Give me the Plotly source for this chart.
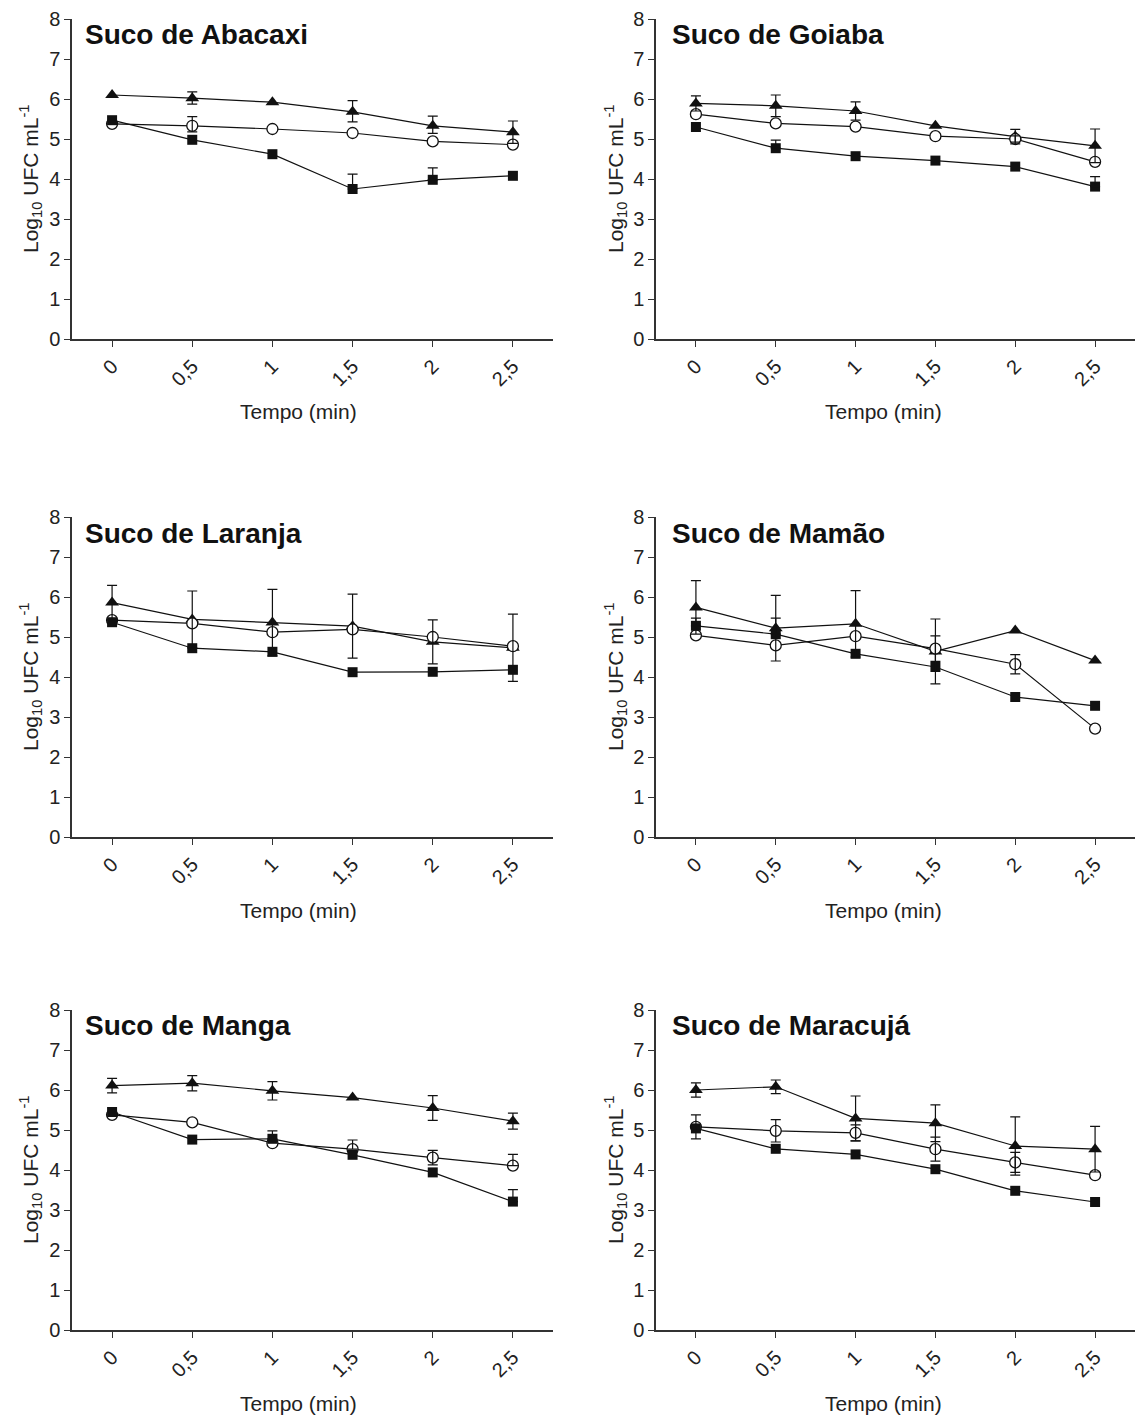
import plotly.graph_objects as go

PAGE_W, PAGE_H = 1143, 1418
LEFT_OFF, TOP_OFF = 8, 19
W, H = PAGE_W - 2 * LEFT_OFF, PAGE_H
H_EFF = H - 22  # vertical extent actually used by the paper area

times = [0, 0.5, 1, 1.5, 2, 2.5]
tick_text = ["0", "0,5", "1", "1,5", "2", "2,5"]
titles = ["Suco de Abacaxi", "Suco de Goiaba", "Suco de Laranja",
          "Suco de Mamão", "Suco de Manga", "Suco de Maracujá"]

# ---- Abacaxi ----
abacaxi_tri = [6.10, 6.02, 5.92, 5.68, 5.33, 5.17]
abacaxi_tri_up = [0, 0.16, 0, 0.28, 0.24, 0.28]
abacaxi_tri_dn = [0, 0.15, 0, 0.25, 0.19, 0.28]
abacaxi_circ = [5.38, 5.33, 5.25, 5.15, 4.94, 4.86]
abacaxi_circ_up = [0, 0.23, 0, 0, 0, 0]
abacaxi_circ_dn = [0, 0.15, 0, 0, 0, 0]
abacaxi_sq = [5.47, 4.98, 4.62, 3.75, 3.98, 4.08]
abacaxi_sq_up = [0, 0, 0, 0.37, 0.30, 0]
abacaxi_sq_dn = [0, 0, 0, 0, 0, 0]

# ---- Goiaba ----
goiaba_tri = [5.89, 5.83, 5.70, 5.33, 5.06, 4.83]
goiaba_tri_up = [0.19, 0.27, 0.23, 0, 0.18, 0.42]
goiaba_tri_dn = [0.19, 0.27, 0.23, 0, 0.18, 0.42]
goiaba_circ = [5.62, 5.39, 5.31, 5.07, 5.00, 4.43]
goiaba_circ_up = [0, 0, 0, 0, 0.08, 0]
goiaba_circ_dn = [0, 0, 0, 0, 0.08, 0]
goiaba_sq = [5.30, 4.77, 4.57, 4.46, 4.31, 3.81]
goiaba_sq_up = [0, 0.20, 0, 0, 0, 0.25]
goiaba_sq_dn = [0, 0, 0, 0, 0, 0]

# ---- Laranja ----
laranja_tri = [5.86, 5.44, 5.36, 5.27, 4.88, 4.73]
laranja_tri_up = [0.43, 0.71, 0.83, 0.80, 0.55, 0.84]
laranja_tri_dn = [0.43, 0.71, 0.83, 0.80, 0.55, 0.84]
laranja_circ = [5.42, 5.34, 5.12, 5.19, 5.00, 4.77]
laranja_circ_up = [0, 0, 0, 0, 0, 0]
laranja_circ_dn = [0, 0, 0, 0, 0, 0]
laranja_sq = [5.37, 4.72, 4.63, 4.12, 4.13, 4.18]
laranja_sq_up = [0, 0, 0, 0, 0, 0]
laranja_sq_dn = [0, 0, 0, 0, 0, 0]

# ---- Mamão ----
mamao_tri = [5.74, 5.22, 5.33, 4.64, 5.16, 4.41]
mamao_tri_up = [0.67, 0.82, 0.83, 0.81, 0, 0]
mamao_tri_dn = [0.67, 0.82, 0.83, 0.81, 0, 0]
mamao_circ = [5.04, 4.79, 5.02, 4.71, 4.32, 2.71]
mamao_circ_up = [0, 0, 0, 0.32, 0.24, 0]
mamao_circ_dn = [0, 0, 0, 0.32, 0.24, 0]
mamao_sq = [5.28, 5.07, 4.58, 4.25, 3.50, 3.28]
mamao_sq_up = [0.19, 0.40, 0, 0, 0, 0]
mamao_sq_dn = [0, 0, 0, 0, 0, 0]

# ---- Manga ----
manga_tri = [6.11, 6.17, 5.98, 5.81, 5.55, 5.22]
manga_tri_up = [0.18, 0.19, 0.23, 0, 0.31, 0.20]
manga_tri_dn = [0.18, 0.19, 0.23, 0, 0.31, 0.20]
manga_circ = [5.38, 5.19, 4.67, 4.52, 4.31, 4.11]
manga_circ_up = [0, 0, 0, 0.23, 0.18, 0.28]
manga_circ_dn = [0, 0, 0, 0, 0.18, 0]
manga_sq = [5.45, 4.76, 4.78, 4.38, 3.94, 3.21]
manga_sq_up = [0, 0, 0.20, 0, 0, 0.30]
manga_sq_dn = [0, 0, 0, 0, 0, 0]

# ---- Maracujá ----
maracuja_tri = [6.00, 6.08, 5.29, 5.17, 4.60, 4.52]
maracuja_tri_up = [0.18, 0.17, 0.56, 0.46, 0.73, 0.57]
maracuja_tri_dn = [0.18, 0.17, 0.56, 0.46, 0.73, 0.57]
maracuja_circ = [5.08, 4.98, 4.93, 4.52, 4.19, 3.87]
maracuja_circ_up = [0.30, 0.28, 0.20, 0.30, 0.25, 0]
maracuja_circ_dn = [0.30, 0.28, 0.20, 0.30, 0.25, 0]
maracuja_sq = [5.04, 4.53, 4.39, 4.02, 3.48, 3.20]
maracuja_sq_up = [0, 0, 0, 0, 0, 0]
maracuja_sq_dn = [0, 0, 0, 0, 0, 0]

panels = [
    (abacaxi_tri, abacaxi_tri_up, abacaxi_tri_dn, abacaxi_circ, abacaxi_circ_up, abacaxi_circ_dn,
     abacaxi_sq, abacaxi_sq_up, abacaxi_sq_dn),
    (goiaba_tri, goiaba_tri_up, goiaba_tri_dn, goiaba_circ, goiaba_circ_up, goiaba_circ_dn,
     goiaba_sq, goiaba_sq_up, goiaba_sq_dn),
    (laranja_tri, laranja_tri_up, laranja_tri_dn, laranja_circ, laranja_circ_up, laranja_circ_dn,
     laranja_sq, laranja_sq_up, laranja_sq_dn),
    (mamao_tri, mamao_tri_up, mamao_tri_dn, mamao_circ, mamao_circ_up, mamao_circ_dn,
     mamao_sq, mamao_sq_up, mamao_sq_dn),
    (manga_tri, manga_tri_up, manga_tri_dn, manga_circ, manga_circ_up, manga_circ_dn,
     manga_sq, manga_sq_up, manga_sq_dn),
    (maracuja_tri, maracuja_tri_up, maracuja_tri_dn, maracuja_circ, maracuja_circ_up, maracuja_circ_dn,
     maracuja_sq, maracuja_sq_up, maracuja_sq_dn),
]

FONT = "Liberation Sans, Arial, Helvetica, sans-serif"
INK = "#111111"
AX = "#333333"


def clamp(v):
    return max(0.0, min(1.0, v))


def px_x(p):
    return (p - LEFT_OFF) / W


def px_y(p):
    return 1 - (p - TOP_OFF) / H_EFF


col_px = [(72, 553), (656, 1135)]
row_px = [(19, 339), (517, 837), (1010, 1330)]
title_left = [83, 670]
xtitle_cx = [298, 883]
ytitle_cx = [30, 615]

fig = go.Figure()
annotations = []

series_style = [
    dict(symbol="triangle-up", size=12, color=INK, line=dict(width=0, color=INK)),
    dict(symbol="circle", size=11, color="white", line=dict(width=1.3, color=INK)),
    dict(symbol="square", size=10, color=INK, line=dict(width=0, color=INK)),
]

for i, vals in enumerate(panels):
    r, c = divmod(i, 2)
    ax_id = "" if i == 0 else str(i + 1)
    xref, yref = "x" + ax_id, "y" + ax_id
    series = [(vals[0], vals[1], vals[2]), (vals[3], vals[4], vals[5]), (vals[6], vals[7], vals[8])]
    for s, (y, up, dn) in enumerate(series):
        fig.add_trace(go.Scatter(
            x=times, y=y, mode="lines+markers", xaxis=xref, yaxis=yref,
            line=dict(color=INK, width=1.2), marker=series_style[s],
            showlegend=False, hoverinfo="skip", cliponaxis=False))
    for s, (y, up, dn) in enumerate(series):
        idx = [k for k in range(len(times)) if up[k] > 0 or dn[k] > 0]
        if not idx:
            continue
        fig.add_trace(go.Scatter(
            x=[times[k] for k in idx], y=[y[k] for k in idx], mode="markers",
            xaxis=xref, yaxis=yref,
            marker=dict(size=1, opacity=0),
            error_y=dict(type="data", symmetric=False,
                         array=[up[k] for k in idx], arrayminus=[dn[k] for k in idx],
                         color=INK, thickness=1.2, width=5),
            showlegend=False, hoverinfo="skip"))

    x0, x1 = col_px[c]
    y0, y1 = row_px[r]
    xa = dict(domain=[clamp(px_x(x0)), clamp(px_x(x1))], range=[-0.25, 2.75], anchor=yref,
              tickvals=times, ticktext=tick_text, tickangle=-45,
              ticks="outside", ticklen=6, tickwidth=1.3, tickcolor=AX,
              showline=True, linecolor=AX, linewidth=1.5,
              showgrid=False, zeroline=False,
              tickfont=dict(family=FONT, size=20, color="#222"))
    ya = dict(domain=[clamp(px_y(y1)), clamp(px_y(y0))], range=[0, 8], anchor=xref,
              tickvals=list(range(0, 9)), ticks="outside", ticklen=6, tickwidth=1.3,
              tickcolor=AX, showline=True, linecolor=AX, linewidth=1.5,
              showgrid=False, zeroline=False,
              tickfont=dict(family=FONT, size=20, color="#222"))
    fig.update_layout(**{"xaxis" + ax_id: xa, "yaxis" + ax_id: ya})

    annotations.append(dict(text="<b>" + titles[i] + "</b>", xref="paper", yref="paper",
                            x=px_x(title_left[c]), y=px_y(y0 + 16), xanchor="left", yanchor="middle",
                            showarrow=False, font=dict(family=FONT, size=28, color="#111")))
    annotations.append(dict(text="Tempo (min)", xref="paper", yref="paper",
                            x=px_x(xtitle_cx[c]), y=px_y(y1 + 73), xanchor="center", yanchor="middle",
                            showarrow=False, font=dict(family=FONT, size=21, color="#222")))
    annotations.append(dict(text="Log<sub>10</sub> UFC mL<sup>-1</sup>", xref="paper", yref="paper",
                            x=px_x(ytitle_cx[c]), y=px_y((y0 + y1) / 2), xanchor="center", yanchor="middle",
                            textangle=-90, showarrow=False,
                            font=dict(family=FONT, size=21, color="#222")))

fig.update_layout(width=W, height=H, margin=dict(l=0, r=0, t=0, b=0),
                  paper_bgcolor="white", plot_bgcolor="white",
                  annotations=annotations, showlegend=False)

fig.write_html("out.html")
